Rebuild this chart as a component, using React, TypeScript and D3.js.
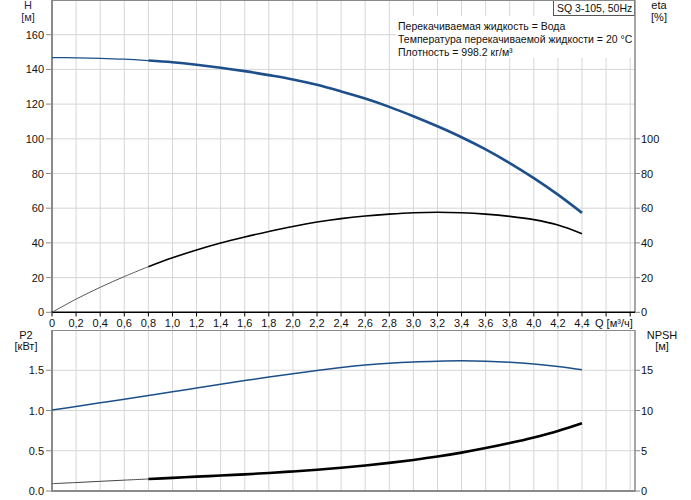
import React from "react";
import * as d3 from "d3";

const flows = [0, 0.2, 0.4, 0.6, 0.8, 1.0, 1.2, 1.4, 1.6, 1.8, 2.0, 2.2, 2.4, 2.6, 2.8, 3.0, 3.2, 3.4, 3.6, 3.8, 4.0, 4.2, 4.4];
const head = [146.8, 146.7, 146.4, 145.9, 145.1, 144.1, 142.7, 141.0, 139.0, 136.7, 134.2, 131.1, 127.3, 123.2, 118.4, 113.0, 107.2, 100.9, 93.9, 86.0, 77.3, 67.8, 57.3];
const eta = [0, 7.6, 14.4, 20.6, 26.3, 31.4, 35.9, 39.9, 43.4, 46.6, 49.5, 52.0, 54.0, 55.5, 56.6, 57.4, 57.7, 57.4, 56.6, 55.3, 53.4, 50.3, 45.3];
const power = [1.005, 1.05, 1.095, 1.14, 1.186, 1.232, 1.28, 1.327, 1.372, 1.415, 1.457, 1.497, 1.533, 1.564, 1.588, 1.604, 1.613, 1.617, 1.613, 1.6, 1.578, 1.547, 1.505];
const npsh = [0.91, 1.05, 1.2, 1.35, 1.49, 1.63, 1.78, 1.92, 2.07, 2.24, 2.43, 2.64, 2.88, 3.16, 3.49, 3.86, 4.28, 4.77, 5.33, 5.96, 6.66, 7.46, 8.42];

const xTicks = [0, 0.2, 0.4, 0.6, 0.8, 1.0, 1.2, 1.4, 1.6, 1.8, 2.0, 2.2, 2.4, 2.6, 2.8, 3.0, 3.2, 3.4, 3.6, 3.8, 4.0, 4.2, 4.4];
const xGrid = [0.2, 0.4, 0.6, 0.8, 1.0, 1.2, 1.4, 1.6, 1.8, 2.0, 2.2, 2.4, 2.6, 2.8, 3.0, 3.2, 3.4, 3.6, 3.8, 4.0, 4.2, 4.4, 4.6, 4.8];
const hTicks = [0, 20, 40, 60, 80, 100, 120, 140, 160];
const etaTicks = [0, 20, 40, 60, 80, 100];
const p2Ticks = [0, 0.5, 1.0, 1.5];
const npshTicks = [0, 5, 10, 15];
const infoLines = [
  "Перекачиваемая жидкость = Вода",
  "Температура перекачиваемой жидкости = 20 °C",
  "Плотность = 998.2 кг/м³",
];
const title = "SQ 3-105, 50Hz";

const FONT = "'Liberation Sans', Arial, sans-serif";
const SPLIT = 4; // index where the line becomes thick

export default function App() {
  const L = 52, R = 635;
  const x = d3.scaleLinear().domain([0, 4.84]).range([L, R]);
  const yH = d3.scaleLinear().domain([0, 180]).range([312.3, 0]);
  const yP = d3.scaleLinear().domain([0, 2]).range([491, 330]);
  const yN = d3.scaleLinear().domain([0, 20]).range([491, 330]);

  const pts = (ys: number[]) => flows.map((q, i) => [q, ys[i]] as [number, number]);
  const mk = (ys: d3.ScaleLinear<number, number>) =>
    d3.line<[number, number]>().x(d => x(d[0])).y(d => ys(d[1])).curve(d3.curveCatmullRom.alpha(0.5));

  const lineH = mk(yH), lineP = mk(yP), lineN = mk(yN);
  const hP = pts(head), eP = pts(eta), pP = pts(power), nP = pts(npsh);

  const blue = "#1d4f8b";
  const gridC = "#d6d6d6";
  const axisC = "#8a8a8a";

  return (
    <svg width={691} height={500} style={{ position: "absolute", left: 0, top: 0, fontFamily: FONT }}>
      <rect x={0} y={0} width={691} height={500} fill="#fff" />
      {/* upper grid */}
      {xGrid.map(q => (
        <line key={"ug" + q} x1={x(q)} x2={x(q)} y1={0} y2={312} stroke={gridC} strokeWidth={1} />
      ))}
      {hTicks.filter(t => t > 0).map(t => (
        <line key={"uh" + t} x1={L} x2={R} y1={yH(t)} y2={yH(t)} stroke={gridC} strokeWidth={1} />
      ))}
      {/* lower grid */}
      {xGrid.map(q => (
        <line key={"lg" + q} x1={x(q)} x2={x(q)} y1={330} y2={491} stroke={gridC} strokeWidth={1} />
      ))}
      {p2Ticks.filter(t => t > 0).map(t => (
        <line key={"lh" + t} x1={L} x2={R} y1={yP(t)} y2={yP(t)} stroke={gridC} strokeWidth={1} />
      ))}

      {/* info box */}
      <rect x={396} y={16} width={238} height={42} fill="#fff" />
      {infoLines.map((t, i) => (
        <text key={t} x={398} y={30 + i * 13} fontSize={10.5} fill="#111">{t}</text>
      ))}
      <rect x={553.5} y={0.5} width={81} height={15} fill="#fff" stroke="#555" strokeWidth={1} />
      <text x={557} y={12} fontSize={10.5} fill="#111">{title}</text>

      {/* upper frame */}
      <line x1={L} x2={R} y1={0.5} y2={0.5} stroke={axisC} strokeWidth={1} />
      <line x1={L} x2={L} y1={0} y2={312.3} stroke={axisC} strokeWidth={2} />
      <line x1={R} x2={R} y1={0} y2={312.3} stroke={axisC} strokeWidth={1.5} />
      <line x1={L - 1} x2={R} y1={312.3} y2={312.3} stroke="#000" strokeWidth={1.5} />
      {xTicks.concat([4.6, 4.8]).map(q => (
        <line key={"xt" + q} x1={x(q)} x2={x(q)} y1={312.3} y2={316.5} stroke="#000" strokeWidth={1} />
      ))}
      {xTicks.map(q => (
        <text key={"xl" + q} x={x(q)} y={326.5} fontSize={11} textAnchor="middle" fill="#111">
          {q === 0 ? "0" : q.toFixed(1).replace(".", ",")}
        </text>
      ))}
      <text x={595} y={326.5} fontSize={11} fill="#111">Q [м³/ч]</text>

      {hTicks.map(t => (
        <g key={"ht" + t}>
          <line x1={L - 6} x2={L} y1={yH(t)} y2={yH(t)} stroke={axisC} strokeWidth={1} />
          <text x={44} y={yH(t) + 4} fontSize={11} textAnchor="end" fill="#111">{t}</text>
        </g>
      ))}
      {etaTicks.map(t => (
        <g key={"et" + t}>
          <line x1={R} x2={R + 5} y1={yH(t)} y2={yH(t)} stroke={axisC} strokeWidth={1} />
          <text x={641} y={yH(t) + 4} fontSize={11} fill="#111">{t}</text>
        </g>
      ))}
      <text x={28} y={9} fontSize={11} textAnchor="middle" fill="#2a1f55">H</text>
      <text x={28} y={21} fontSize={11} textAnchor="middle" fill="#2a1f55">[м]</text>
      <text x={659} y={9} fontSize={11} textAnchor="middle" fill="#111">eta</text>
      <text x={659} y={21} fontSize={11} textAnchor="middle" fill="#111">[%]</text>

      {/* lower frame */}
      <line x1={L} x2={R} y1={330.5} y2={330.5} stroke={axisC} strokeWidth={1} />
      <line x1={L} x2={L} y1={330} y2={492} stroke={axisC} strokeWidth={2} />
      <line x1={R} x2={R} y1={330} y2={492} stroke={axisC} strokeWidth={1.5} />
      <line x1={L} x2={R} y1={491} y2={491} stroke={axisC} strokeWidth={2} />
      {p2Ticks.map(t => (
        <g key={"pt" + t}>
          <line x1={L - 6} x2={L} y1={yP(t)} y2={yP(t)} stroke={axisC} strokeWidth={1} />
          <text x={44} y={yP(t) + 4} fontSize={11} textAnchor="end" fill="#111">{t.toFixed(1)}</text>
        </g>
      ))}
      {npshTicks.map(t => (
        <g key={"nt" + t}>
          <line x1={R} x2={R + 5} y1={yN(t)} y2={yN(t)} stroke={axisC} strokeWidth={1} />
          <text x={641} y={yN(t) + 4} fontSize={11} fill="#111">{t}</text>
        </g>
      ))}
      <text x={26} y={339} fontSize={11} textAnchor="middle" fill="#111">P2</text>
      <text x={26} y={350} fontSize={11} textAnchor="middle" fill="#111">[кВт]</text>
      <text x={662} y={339} fontSize={11} textAnchor="middle" fill="#111">NPSH</text>
      <text x={662} y={350} fontSize={11} textAnchor="middle" fill="#111">[м]</text>

      {/* curves */}
      <path d={lineH(hP.slice(0, SPLIT + 1)) || ""} fill="none" stroke={blue} strokeWidth={1.3} />
      <path d={lineH(hP.slice(SPLIT)) || ""} fill="none" stroke={blue} strokeWidth={2.6} />
      <path d={lineH(eP.slice(0, SPLIT + 1)) || ""} fill="none" stroke="#444" strokeWidth={0.9} />
      <path d={lineH(eP.slice(SPLIT)) || ""} fill="none" stroke="#000" strokeWidth={1.6} />
      <path d={lineP(pP) || ""} fill="none" stroke={blue} strokeWidth={1.5} />
      <path d={lineN(nP.slice(0, SPLIT + 1)) || ""} fill="none" stroke="#444" strokeWidth={1} />
      <path d={lineN(nP.slice(SPLIT)) || ""} fill="none" stroke="#000" strokeWidth={2.6} />
    </svg>
  );
}
